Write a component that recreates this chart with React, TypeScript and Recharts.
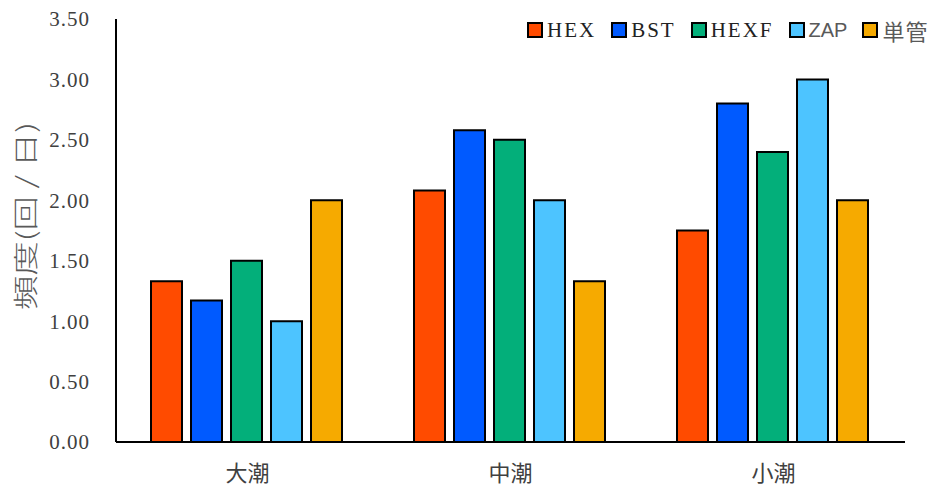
import { BarChart, Bar, XAxis, YAxis } from "recharts";

// 潮汐ごとの頻度（回/日）
const tides = ["大潮", "中潮", "小潮"];
const hex = [1.33, 2.08, 1.75];
const bst = [1.17, 2.58, 2.8];
const hexf = [1.5, 2.5, 2.4];
const zap = [1.0, 2.0, 3.0];
const tankan = [2.0, 1.33, 2.0];
const yTicks = [0, 0.5, 1, 1.5, 2, 2.5, 3, 3.5];

const series = [
  { key: "HEX", values: hex, color: "#FF4B00", font: "'Liberation Serif', serif", text: "#222", size: 21, spacing: 2 },
  { key: "BST", values: bst, color: "#005AFF", font: "'Liberation Serif', serif", text: "#222", size: 21, spacing: 2 },
  { key: "HEXF", values: hexf, color: "#03AF7A", font: "'Liberation Serif', serif", text: "#222", size: 21, spacing: 2 },
  { key: "ZAP", values: zap, color: "#4DC4FF", font: "'Liberation Sans', Arial, sans-serif", text: "#595959", size: 20, spacing: 0 },
  { key: "単管", values: tankan, color: "#F6AA00", font: "'Noto Sans CJK JP', sans-serif", text: "#595959", size: 22, spacing: 1 },
];

const data = tides.map((tide, i) => {
  const row: Record<string, string | number> = { tide };
  series.forEach((s) => (row[s.key] = s.values[i]));
  return row;
});

const YLabel = () => (
  <text
    x={24}
    y={216}
    transform="rotate(-90 24 216)"
    textAnchor="middle"
    dominantBaseline="central"
    textLength={188}
    lengthAdjust="spacingAndGlyphs"
    style={{ fontFamily: "'Noto Sans CJK JP', sans-serif", fontSize: 25, fontWeight: 300, fill: "#595959" }}
  >
    頻度(回 / 日)
  </text>
);

const App = () => {
  return (
    <div style={{ position: "absolute", left: 0, top: 0, width: 931, height: 492, background: "#fff" }}>
      <BarChart
        width={931}
        height={492}
        data={data}
        margin={{ top: 19, right: 26, bottom: 0, left: 0 }}
        barCategoryGap={35}
        barGap={9}
      >
        <XAxis
          dataKey="tide"
          height={50}
          tickLine={false}
          tickSize={0}
          tickMargin={23}
          axisLine={{ stroke: "#000", strokeWidth: 2 }}
          tick={{ fontSize: 22, fill: "#404040", fontFamily: "'Noto Sans CJK JP', sans-serif" }}
        />
        <YAxis
          width={116}
          domain={[0, 3.5]}
          ticks={yTicks}
          interval={0}
          tickLine={false}
          tickSize={0}
          tickMargin={26}
          axisLine={{ stroke: "#000", strokeWidth: 2 }}
          tickFormatter={(v: number) => v.toFixed(2)}
          tick={{ fontSize: 21, fill: "#404040", fontFamily: "'Liberation Serif', serif", letterSpacing: 1 }}
          label={{ content: () => <YLabel /> }}
        />
        {series.map((s) => (
          <Bar
            key={s.key}
            dataKey={s.key}
            fill={s.color}
            stroke="#000"
            strokeWidth={2}
            isAnimationActive={false}
          />
        ))}
      </BarChart>

      <div
        style={{
          position: "absolute",
          left: 527,
          top: 18,
          display: "flex",
          alignItems: "center",
          gap: 15,
          whiteSpace: "nowrap",
        }}
      >
        {series.map((s) => (
          <div key={s.key} style={{ display: "flex", alignItems: "center", gap: 4 }}>
            <span
              style={{
                display: "inline-block",
                width: 12,
                height: 12,
                background: s.color,
                border: "2px solid #000",
              }}
            />
            <span
              style={{
                fontFamily: s.font,
                fontSize: s.size,
                color: s.text,
                letterSpacing: s.spacing,
                lineHeight: "24px",
              }}
            >
              {s.key}
            </span>
          </div>
        ))}
      </div>
    </div>
  );
};

export default App;
